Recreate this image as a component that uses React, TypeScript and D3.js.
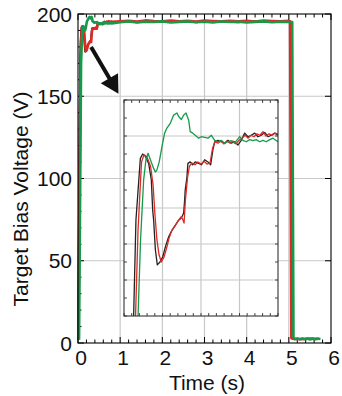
import * as d3 from "d3";

type Pt = [number, number];

// start-up transient (seconds, volts) — also what the inset shows
const blackRise: Pt[] = [
  [0.0, 2], [0.05, 170], [0.062, 183.3], [0.085, 191.9], [0.097, 192.5], [0.111, 192.2],
  [0.128, 191.2], [0.142, 188.9], [0.149, 184.7], [0.154, 183.3], [0.163, 179.2],
  [0.173, 177.1], [0.187, 177.5], [0.201, 178.2], [0.215, 179.6], [0.232, 181.0],
  [0.249, 181.9], [0.266, 182.6], [0.284, 183.3], [0.298, 183.6], [0.31, 184.3],
  [0.315, 186.1], [0.318, 187.5], [0.327, 189.3], [0.332, 191.2], [0.344, 191.4],
  [0.357, 191.0], [0.37, 191.4], [0.388, 191.2], [0.402, 191.0], [0.419, 191.7],
  [0.436, 191.4], [0.45, 191.0], [0.462, 193.1], [0.471, 194.2], [0.488, 194.4],
  [0.505, 194.2], [0.523, 194.0], [0.54, 194.4], [0.557, 194.0], [0.575, 194.2],
  [0.592, 193.75], [0.609, 194.4], [0.627, 195.4], [0.644, 194.9], [0.661, 195.1],
  [0.679, 195.4], [0.696, 194.9], [0.713, 195.1], [0.731, 195.5], [0.748, 194.9],
  [0.765, 195.1], [0.783, 195.4], [0.8, 195.1],
];

const redRise: Pt[] = [
  [0.01, 2], [0.06, 170], [0.073, 182], [0.091, 191.4], [0.104, 192.4], [0.119, 192.1],
  [0.138, 190.8], [0.151, 188.2], [0.161, 184.0], [0.171, 180.6], [0.182, 178.5],
  [0.194, 177.5], [0.208, 178.2], [0.221, 179.4], [0.234, 180.8], [0.249, 181.9],
  [0.265, 182.5], [0.281, 183.2], [0.296, 183.75], [0.304, 183.5], [0.312, 182.9],
  [0.319, 186.1], [0.33, 189.2], [0.34, 190.8], [0.353, 191.25], [0.369, 191.0],
  [0.384, 191.4], [0.4, 191.1], [0.416, 191.5], [0.431, 191.1], [0.447, 191.25],
  [0.46, 193.3], [0.473, 194.2], [0.488, 194.0], [0.504, 194.3], [0.519, 193.9],
  [0.535, 194.3], [0.551, 194.0], [0.566, 194.3], [0.582, 193.9], [0.597, 194.4],
  [0.613, 194.7], [0.629, 195.1], [0.644, 194.7], [0.66, 195.1], [0.675, 194.9],
  [0.691, 195.3], [0.706, 195.1], [0.722, 195.6], [0.738, 195.0], [0.753, 195.3],
  [0.769, 195.1], [0.784, 195.4], [0.8, 195.3],
];

const greenRise: Pt[] = [
  [0.025, 2], [0.073, 170], [0.086, 180.6], [0.102, 188.9], [0.114, 191.7], [0.125, 192.6],
  [0.137, 191.7], [0.154, 190.5], [0.163, 190.0], [0.171, 190.3], [0.183, 191.4],
  [0.197, 193.5], [0.211, 195.4], [0.223, 196.1], [0.241, 196.8], [0.258, 197.9],
  [0.275, 198.2], [0.284, 197.7], [0.298, 197.3], [0.31, 197.9], [0.322, 198.2],
  [0.336, 197.2], [0.344, 195.6], [0.357, 195.4], [0.37, 195.1], [0.388, 194.7],
  [0.402, 194.9], [0.419, 194.8], [0.436, 194.7], [0.454, 195.1], [0.471, 194.4],
  [0.488, 194.2], [0.505, 194.4], [0.523, 194.0], [0.54, 194.2], [0.557, 194.35],
  [0.575, 194.0], [0.601, 194.9], [0.618, 194.4], [0.635, 194.2], [0.653, 194.5],
  [0.67, 194.35], [0.687, 194.5], [0.705, 194.2], [0.722, 194.4], [0.739, 194.2],
  [0.757, 194.5], [0.774, 194.7], [0.8, 194.2],
];

// steady plateau
const plateauTimes = [1.0, 1.2, 1.4, 1.6, 1.8, 2.0, 2.2, 2.4, 2.6, 2.8, 3.0, 3.2, 3.4, 3.6, 3.8, 4.0, 4.2, 4.4, 4.6, 4.8, 5.0];
const blackPlateau = [195.2, 195.6, 195.0, 195.5, 195.3, 195.8, 195.1, 195.4, 195.6, 195.0, 195.5, 195.2, 195.7, 195.3, 195.0, 195.6, 195.4, 195.1, 195.5, 195.3, 195.4];
const redPlateau = [195.6, 195.9, 195.4, 196.1, 195.7, 195.5, 196.0, 195.6, 195.8, 195.4, 196.0, 195.7, 195.5, 195.9, 195.6, 195.8, 195.4, 196.0, 195.7, 195.5, 195.8];
const greenPlateau = [195.0, 195.4, 194.9, 195.3, 195.1, 195.5, 194.8, 195.2, 195.4, 195.0, 195.3, 194.9, 195.4, 195.1, 195.3, 194.9, 195.2, 195.5, 195.0, 195.3, 195.1];

// switch-off
const blackFall: Pt[] = [[5.04, 195.3], [5.07, 3], [5.12, 2.3], [5.3, 2.6], [5.5, 2.3], [5.7, 2.5]];
const redFall: Pt[] = [[5.03, 195.6], [5.06, 3], [5.1, 2.6], [5.3, 2.3], [5.5, 2.7], [5.7, 2.4]];
const greenFall: Pt[] = [
  [5.08, 195.1], [5.11, 3.5], [5.14, 2.4], [5.2, 2.8], [5.26, 2.2], [5.32, 2.7], [5.38, 2.3],
  [5.44, 2.8], [5.5, 2.2], [5.56, 2.7], [5.62, 2.3], [5.68, 2.7], [5.75, 2.4],
];

const xTicks = [0, 1, 2, 3, 4, 5, 6];
const yTicks = [0, 50, 100, 150, 200];
const arrowFrom: Pt = [0.31, 180];
const arrowTo: Pt = [0.96, 151.5];

const W = 342, H = 396;
const M = { left: 78, right: 331, top: 14, bottom: 343 };
const INSET = { left: 124, right: 278, top: 100, bottom: 316 };

const COL = { black: "#222222", red: "#dd2a25", green: "#149a4a" };
const FONT = "'Liberation Sans', Arial, Helvetica, sans-serif";

const plateau = (vals: number[]): Pt[] => plateauTimes.map((t, i) => [t, vals[i]]);

export default function App() {
  const x = d3.scaleLinear().domain([0, 6]).range([M.left, M.right]);
  const y = d3.scaleLinear().domain([0, 200]).range([M.bottom, M.top]);
  const xi = d3.scaleLinear().domain([0, 0.8]).range([INSET.left, INSET.right]);
  const yi = d3.scaleLinear().domain([170, 200]).range([INSET.bottom, INSET.top]);

  const line = d3.line<Pt>().x((d) => x(d[0])).y((d) => y(d[1]));
  const lineI = d3.line<Pt>().x((d) => xi(d[0])).y((d) => yi(d[1]));

  const mainSeries = [
    { c: COL.black, w: 2, d: [...blackRise, ...plateau(blackPlateau), ...blackFall] },
    { c: COL.red, w: 2.6, d: [...redRise, ...plateau(redPlateau), ...redFall] },
    { c: COL.green, w: 2.6, d: [...greenRise, ...plateau(greenPlateau), ...greenFall] },
  ];
  const insetSeries = [
    { c: COL.black, d: blackRise },
    { c: COL.red, d: redRise },
    { c: COL.green, d: greenRise },
  ];

  const xMinor = d3.range(0, 31).map((i) => i * 0.2);
  const yMinor = d3.range(0, 21).map((i) => i * 10);
  const xiMinor = d3.range(0, 21).map((i) => i * 0.04);
  const yiMinor = d3.range(0, 13).map((i) => 170 + i * 2.5);
  const xiGrid = [0.2, 0.4, 0.6];
  const yiGrid = [175, 180, 185, 190, 195];

  // arrow geometry (from data coords)
  const ax0 = x(arrowFrom[0]), ay0 = y(arrowFrom[1]);
  const ax1 = x(arrowTo[0]), ay1 = y(arrowTo[1]);
  const len = Math.hypot(ax1 - ax0, ay1 - ay0);
  const ux = (ax1 - ax0) / len, uy = (ay1 - ay0) / len;
  const headL = 18, headW = 10;
  const bx = ax1 - ux * headL, by = ay1 - uy * headL;
  const head = `${ax1},${ay1} ${bx + uy * headW},${by - ux * headW} ${bx - uy * headW},${by + ux * headW}`;

  const grid = "#c8c8c8";

  return (
    <svg width={W} height={H} style={{ position: "absolute", left: 0, top: 0, background: "#fff" }} fontFamily={FONT}>
      <defs>
        <clipPath id="insetClip">
          <rect x={INSET.left} y={INSET.top} width={INSET.right - INSET.left} height={INSET.bottom - INSET.top} />
        </clipPath>
      </defs>

      {/* main grid */}
      {xTicks.slice(1, -1).map((t) => (
        <line key={"gx" + t} x1={x(t)} x2={x(t)} y1={M.top} y2={M.bottom} stroke={grid} strokeWidth={1.2} />
      ))}
      {yTicks.slice(1, -1).map((v) => (
        <line key={"gy" + v} x1={M.left} x2={M.right} y1={y(v)} y2={y(v)} stroke={grid} strokeWidth={1.2} />
      ))}

      {/* main ticks */}
      {xMinor.map((t, i) => {
        const len = i % 5 === 0 ? 6 : 3.5;
        return (
          <g key={"xt" + i} stroke="#000" strokeWidth={1}>
            <line x1={x(t)} x2={x(t)} y1={M.bottom} y2={M.bottom - len} />
            <line x1={x(t)} x2={x(t)} y1={M.top} y2={M.top + len} />
          </g>
        );
      })}
      {yMinor.map((v, i) => (
        <line key={"yt" + i} x1={M.left} x2={M.left + (i % 5 === 0 ? 6 : 3.5)} y1={y(v)} y2={y(v)} stroke="#000" strokeWidth={1} />
      ))}
      {yTicks.map((v) => (
        <line key={"yr" + v} x1={M.right} x2={M.right - 6} y1={y(v)} y2={y(v)} stroke="#000" strokeWidth={1} />
      ))}

      {/* main series */}
      {mainSeries.map((s, i) => (
        <path key={"m" + i} d={line(s.d) ?? ""} fill="none" stroke={s.c} strokeWidth={s.w} strokeLinejoin="round" />
      ))}

      <rect x={M.left} y={M.top} width={M.right - M.left} height={M.bottom - M.top} fill="none" stroke="#000" strokeWidth={1.1} />

      {/* tick labels */}
      {xTicks.map((t) => (
        <text key={"xl" + t} x={x(t) + 3} y={365} fontSize={21} textAnchor="middle" fill="#111">{t}</text>
      ))}
      {yTicks.map((v) => (
        <text key={"yl" + v} x={72} y={y(v)} dy="0.36em" fontSize={21} textAnchor="end" fill="#111">{v}</text>
      ))}

      <text x={207} y={390} fontSize={21} textAnchor="middle" fill="#111">Time (s)</text>
      <text transform={`translate(28,${199}) rotate(-90)`} fontSize={21} textAnchor="middle" fill="#111">Target Bias Voltage (V)</text>

      {/* arrow */}
      <line x1={ax0} y1={ay0} x2={bx + ux * 2} y2={by + uy * 2} stroke="#111" strokeWidth={4} />
      <polygon points={head} fill="#111" />

      {/* inset */}
      <rect x={INSET.left} y={INSET.top} width={INSET.right - INSET.left} height={INSET.bottom - INSET.top} fill="#fff" />
      {xiGrid.map((t) => (
        <line key={"igx" + t} x1={xi(t)} x2={xi(t)} y1={INSET.top} y2={INSET.bottom} stroke={grid} strokeWidth={1.2} />
      ))}
      {yiGrid.map((v) => (
        <line key={"igy" + v} x1={INSET.left} x2={INSET.right} y1={yi(v)} y2={yi(v)} stroke={grid} strokeWidth={1.2} />
      ))}
      {xiMinor.map((t, i) => (
        <g key={"ixt" + i} stroke="#333" strokeWidth={0.9}>
          <line x1={xi(t)} x2={xi(t)} y1={INSET.bottom} y2={INSET.bottom - 3} />
          <line x1={xi(t)} x2={xi(t)} y1={INSET.top} y2={INSET.top + 3} />
        </g>
      ))}
      {yiMinor.map((v, i) => (
        <g key={"iyt" + i} stroke="#333" strokeWidth={0.9}>
          <line x1={INSET.left} x2={INSET.left + 3} y1={yi(v)} y2={yi(v)} />
          <line x1={INSET.right} x2={INSET.right - 3} y1={yi(v)} y2={yi(v)} />
        </g>
      ))}
      <g clipPath="url(#insetClip)">
        {insetSeries.map((s, i) => (
          <path key={"i" + i} d={lineI(s.d) ?? ""} fill="none" stroke={s.c} strokeWidth={1.3} strokeLinejoin="round" />
        ))}
      </g>
      <rect x={INSET.left} y={INSET.top} width={INSET.right - INSET.left} height={INSET.bottom - INSET.top} fill="none" stroke="#333" strokeWidth={1.1} />
    </svg>
  );
}
